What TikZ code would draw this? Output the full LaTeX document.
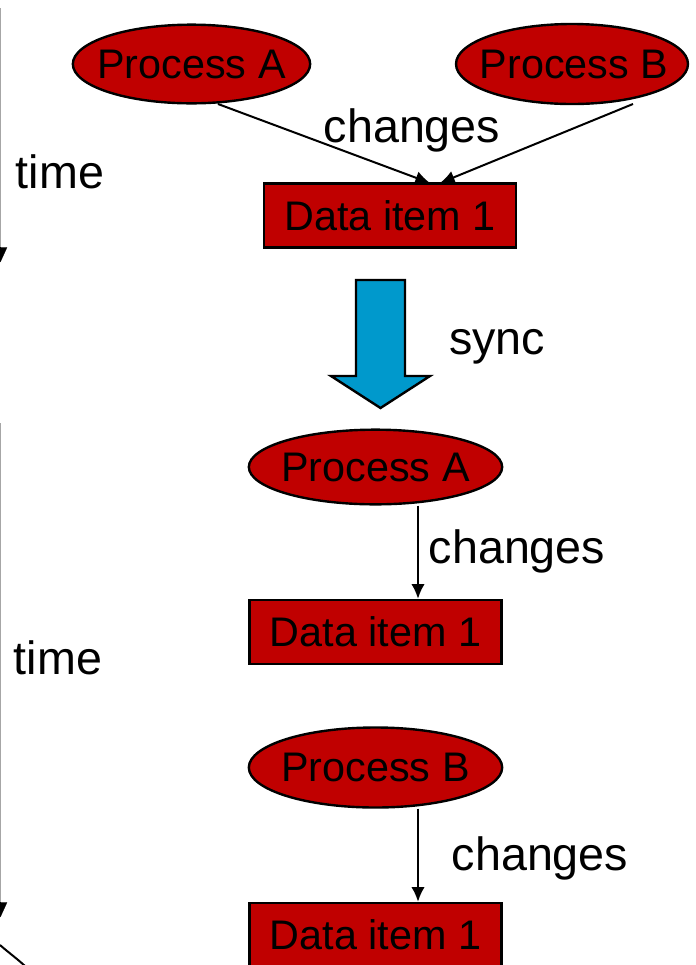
\documentclass[tikz,border=0pt]{standalone}
\usepackage{xcolor}
\usepackage{fontspec}
\setmainfont{Liberation Sans}
\usepackage{tikz}
\usetikzlibrary{positioning}
\usetikzlibrary{shapes}
\usetikzlibrary{arrows,arrows.meta}
\usetikzlibrary{calc}

\definecolor{procred}{RGB}{192,0,0}
\definecolor{syncblue}{RGB}{0,153,204}

\tikzset{
  proc/.style = {ellipse, draw=black, line width=1.8pt, fill=procred, inner sep=0pt},
  ptext/.style = {inner sep=0pt, font=\fontsize{31}{34}\selectfont},
  item/.style = {rectangle, draw=black, line width=1.8pt, fill=procred, inner sep=0pt,
                 minimum width=189pt, minimum height=48pt, font=\fontsize{31}{34}\selectfont},
  lbl/.style = {font=\fontsize{35}{40}\selectfont, inner sep=0pt},
  chg/.style = {-{Latex[length=11pt,width=10pt]}, line width=1.5pt},
  timeline/.style = {gray!70, line width=1pt}
}

\begin{document}
\begin{tikzpicture}[x=0.75pt, y=-0.75pt]
\useasboundingbox (0,0) rectangle (696,965);
\clip (0,0) rectangle (696,965);

% first step: both change
\node[proc, minimum width=178pt, minimum height=59pt] (procA0) at (191.5,64) {};
\node[ptext] (procA0t) at (procA0.center) {Process A};
\node[proc, minimum width=174pt, minimum height=60pt] (procB0) at (572,64) {};
\node[ptext] (procB0t) at (574,64) {Process B};
\node[item] (data0) at (390,215.5) {Data item 1};
\coordinate (fromA) at (218,104);
\coordinate (fromB) at (633,104);
\coordinate (hitA) at (430,183);
\coordinate (hitB) at (440,183);
\draw[chg] (fromA) -- (hitA);
\draw[chg] (fromB) -- (hitB);
\node[lbl] (chg0) at (412,130) {changes};

% time (top)
\coordinate (t0s) at (0.5,8);
\coordinate (t0e) at (0.5,248);
\coordinate (t0tip) at (0.5,262);
\draw[timeline] (t0s) -- (t0e);
\draw[-{Triangle[length=11pt,width=10pt]}, black, line width=0.1pt] (t0e) -- (t0tip);
\node[lbl] (time0) at (60,172) {time};

% sync
\draw[fill=syncblue, line width=1.8pt]
  (356,280) -- (405,280) -- (405,376) -- (430,376) -- (380.5,408)
  -- (331,376) -- (356,376) -- cycle;
\node[lbl] (sync) at (497,347) {sync};

% after sync: one after the other
\node[proc, minimum width=190pt, minimum height=56pt] (procA1) at (375.5,467) {};
\node[ptext] (procA1t) at (procA1.center) {Process A};
\node[item] (data1) at (375.5,632) {Data item 1};
\draw[chg] (procA1.south -| 418,0) -- (data1.north -| 418,0);
\node[lbl] (chg1) at (517,551) {changes};

\node[proc, minimum width=190pt, minimum height=60pt] (procB1) at (375.5,767.5) {};
\node[ptext] (procB1t) at (procB1.center) {Process B};
\node[item] (data2) at (375.5,935) {Data item 1};
\draw[chg] (procB1.south -| 418,0) -- (data2.north -| 418,0);
\node[lbl] (chg2) at (540,858) {changes};

% time (bottom)
\coordinate (t1s) at (0.5,423);
\coordinate (t1e) at (0.5,903);
\coordinate (t1tip) at (0.5,917);
\draw[timeline] (t1s) -- (t1e);
\draw[-{Triangle[length=11pt,width=10pt]}, black, line width=0.1pt] (t1e) -- (t1tip);
\node[lbl] (time1) at (58,658) {time};
\coordinate (arcs) at (0,945);
\coordinate (arce) at (27,968);
\draw[line width=1.5pt] (arcs) .. controls (9,953) and (19,960) .. (arce);
\end{tikzpicture}
\end{document}
